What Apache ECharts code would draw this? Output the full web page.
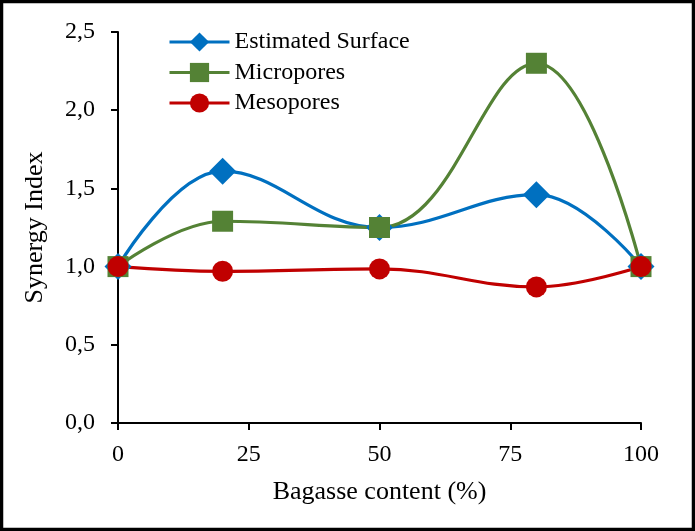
<!DOCTYPE html>
<html><head><meta charset="utf-8">
<script src="https://cdn.jsdelivr.net/npm/echarts@6/dist/echarts.min.js"></script>
<style>html,body{margin:0;padding:0;background:#fff}#c{width:695px;height:531px}</style>
</head><body><div id="c"></div>
<script>
const xValues = [0, 20, 50, 80, 100];
const estimatedSurface = [1.0, 1.61, 1.25, 1.46, 1.0];
const micropores = [1.0, 1.29, 1.25, 2.30, 1.0];
const mesopores = [1.0, 0.97, 0.985, 0.87, 1.0];
const seriesNames = ['Estimated Surface', 'Micropores', 'Mesopores'];

const pair = arr => xValues.map((x, i) => [x, arr[i]]);
const font = 'Liberation Serif, Times New Roman, serif';
const chart = echarts.init(document.getElementById('c'));
const mk = (name, data, color, symbol, size) => ({
  name, type: 'line', data: pair(data), smooth: 0.4,
  symbol, symbolSize: size,
  lineStyle: { color, width: 3.2 }, itemStyle: { color },
  emphasis: { disabled: true }
});
chart.setOption({
  animation: false,
  textStyle: { fontFamily: font, color: '#000' },
  graphic: [{ type: 'rect', shape: { x: 1.5, y: 1.5, width: 692, height: 528 }, style: { fill: 'none', stroke: '#000', lineWidth: 3.5 }, silent: true }],
  grid: { left: 118, right: 54, top: 32, bottom: 108 },
  legend: {
    orient: 'vertical', left: 163, top: 25, itemWidth: 60, itemHeight: 24, itemGap: 6.5,
    lineStyle: { width: 3 },
    textStyle: { fontFamily: font, fontSize: 24, color: '#000' },
    data: seriesNames
  },
  xAxis: {
    type: 'value', min: 0, max: 100, interval: 25,
    name: 'Bagasse content (%)', nameLocation: 'middle', nameGap: 56,
    nameTextStyle: { fontFamily: font, fontSize: 26, color: '#000' },
    axisLine: { lineStyle: { color: '#000', width: 2 } },
    axisTick: { show: true, length: 7, lineStyle: { color: '#000', width: 2 } },
    axisLabel: { fontFamily: font, fontSize: 24, color: '#000', margin: 20 },
    splitLine: { show: false }
  },
  yAxis: {
    type: 'value', min: 0, max: 2.5, interval: 0.5,
    name: 'Synergy Index', nameLocation: 'middle', nameGap: 70,
    nameTextStyle: { fontFamily: font, fontSize: 26, color: '#000' },
    axisLine: { show: true, lineStyle: { color: '#000', width: 2 } },
    axisTick: { show: true, length: 7, lineStyle: { color: '#000', width: 2 } },
    axisLabel: { fontFamily: font, fontSize: 24, color: '#000', margin: 23, formatter: v => v.toFixed(1).replace('.', ',') },
    splitLine: { show: false }
  },
  series: [
    mk(seriesNames[0], estimatedSurface, '#0070C0', 'diamond', 27),
    mk(seriesNames[1], micropores, '#548235', 'rect', 21),
    mk(seriesNames[2], mesopores, '#C00000', 'circle', 21)
  ]
});
</script></body></html>
